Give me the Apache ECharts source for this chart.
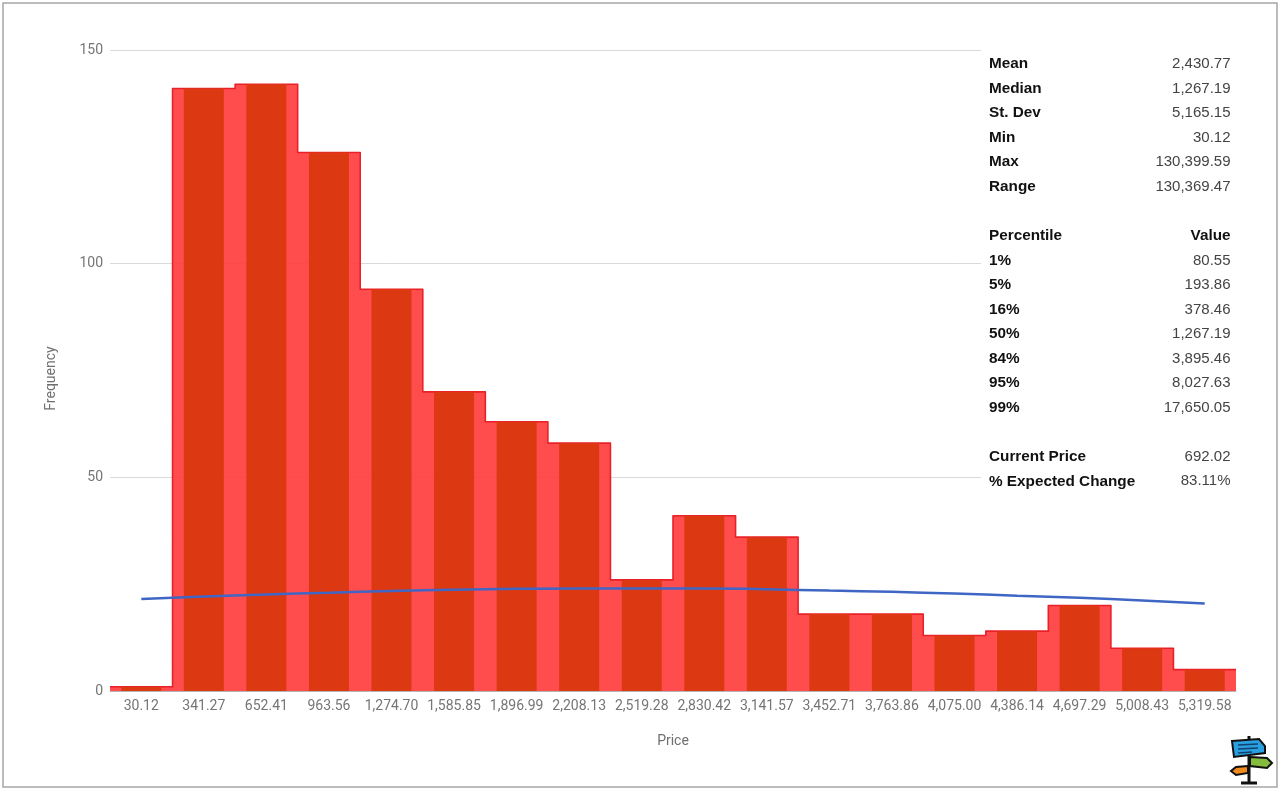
<!DOCTYPE html>
<html lang="en">
  <head>
    <meta charset="UTF-8" />
    <title>Price distribution</title>
    <style>
      html, body { margin: 0; padding: 0; background: #fff; }
      #main { width: 1280px; height: 790px; }
    </style>
    <script src="https://cdn.jsdelivr.net/npm/echarts@6/dist/echarts.min.js"></script>
  </head>
  <body>
    <div id="main"></div>
    <script>
      var priceLabels = ["30.12", "341.27", "652.41", "963.56", "1,274.70", "1,585.85", "1,896.99", "2,208.13", "2,519.28", "2,830.42", "3,141.57", "3,452.71", "3,763.86", "4,075.00", "4,386.14", "4,697.29", "5,008.43", "5,319.58"];
      var frequency = [1, 141, 142, 126, 94, 70, 63, 58, 26, 41, 36, 18, 18, 13, 14, 20, 10, 5];
      var normalCurve = [21.5, 22.1, 22.6, 23.0, 23.4, 23.7, 23.9, 24.0, 24.0, 24.0, 23.8, 23.5, 23.2, 22.8, 22.3, 21.8, 21.2, 20.5];
      var yTicks = [0, 50, 100, 150];

      // stats table, empty rows are spacers
      var statNames = ["Mean", "Median", "St. Dev", "Min", "Max", "Range", "", "Percentile", "1%", "5%", "16%", "50%", "84%", "95%", "99%", "", "Current Price", "% Expected Change"];
      var statValues = ["2,430.77", "1,267.19", "5,165.15", "30.12", "130,399.59", "130,369.47", "", "Value", "80.55", "193.86", "378.46", "1,267.19", "3,895.46", "8,027.63", "17,650.05", "", "692.02", "83.11%"];

      // step outline runs over the full width of each bin
      var stepData = [];
      frequency.forEach(function (v, i) {
        stepData.push([i, v]);
        stepData.push([i + 1, v]);
      });

      var tableFont = '"Liberation Sans", Arial, sans-serif';
      var graphics = [
        { type: "rect", z: 50, shape: { x: 981, y: 44, width: 256, height: 448 }, style: { fill: "#fff" } },
        { type: "rect", z: 60, shape: { x: 3, y: 3, width: 1274, height: 784 }, style: { fill: "none", stroke: "#a6a6a6", lineWidth: 1.5 } }
      ];
      statNames.forEach(function (name, i) {
        var y = 64 + i * 24.55;
        var isHead = i === 7;
        graphics.push({ type: "text", z: 61, style: { x: 989, y: y, text: name, fill: "#111", font: "bold 15.3px " + tableFont, textVerticalAlign: "middle" } });
        graphics.push({ type: "text", z: 61, style: { x: 1230.5, y: y, text: statValues[i], textAlign: "right", fill: isHead ? "#111" : "#444", font: isHead ? "bold 15.3px " + tableFont : "15px " + tableFont, textVerticalAlign: "middle" } });
      });

      // signpost logo, bottom right
      var logo = [
        { type: "line", shape: { x1: 1249, y1: 736, x2: 1249, y2: 782 }, style: { stroke: "#111", lineWidth: 3 } },
        { type: "line", shape: { x1: 1241, y1: 783, x2: 1257, y2: 783 }, style: { stroke: "#111", lineWidth: 3 } },
        { type: "polygon", shape: { points: [[1232, 741], [1259, 739], [1265, 746], [1265, 753], [1234, 757]] }, style: { fill: "#2a9fe0", stroke: "#111", lineWidth: 2 } },
        { type: "line", shape: { x1: 1238, y1: 745, x2: 1258, y2: 744 }, style: { stroke: "#12406e", lineWidth: 1.5 } },
        { type: "line", shape: { x1: 1238, y1: 749, x2: 1258, y2: 748 }, style: { stroke: "#12406e", lineWidth: 1.5 } },
        { type: "line", shape: { x1: 1238, y1: 753, x2: 1252, y2: 752 }, style: { stroke: "#12406e", lineWidth: 1.5 } },
        { type: "polygon", shape: { points: [[1250, 757], [1267, 758], [1272, 763], [1267, 768], [1250, 766]] }, style: { fill: "#84bd3e", stroke: "#111", lineWidth: 2 } },
        { type: "polygon", shape: { points: [[1248, 766], [1236, 767], [1231, 771], [1236, 775], [1248, 773]] }, style: { fill: "#f08a1d", stroke: "#111", lineWidth: 2 } }
      ];
      logo.forEach(function (el) {
        el.z = 62;
        graphics.push(el);
      });

      var chart = echarts.init(document.getElementById("main"));
      chart.setOption({
        animation: false,
        backgroundColor: "#fff",
        textStyle: { fontFamily: "Roboto" },
        grid: { left: 110, right: 44, top: 50, bottom: 99 },
        xAxis: [
          {
            type: "category",
            data: priceLabels,
            name: "Price",
            nameLocation: "middle",
            nameGap: 43,
            nameTextStyle: { color: "#6f6f6f", fontSize: 14 },
            axisTick: { show: false },
            axisLine: { lineStyle: { color: "#b5b5b5", width: 1 } },
            axisLabel: { color: "#757575", fontSize: 14, margin: 8, interval: 0 }
          },
          { type: "value", min: 0, max: 18, show: false }
        ],
        yAxis: {
          type: "value",
          min: 0,
          max: 150,
          interval: 50,
          name: "Frequency",
          nameLocation: "middle",
          nameGap: 52,
          nameTextStyle: { color: "#6f6f6f", fontSize: 14, padding: [0, 16, 0, 0] },
          axisLine: { show: false },
          axisTick: { show: false },
          axisLabel: { color: "#757575", fontSize: 14, margin: 7, customValues: yTicks },
          splitLine: { lineStyle: { color: "#d9d9d9", width: 1 } }
        },
        series: [
          {
            type: "line",
            xAxisIndex: 1,
            data: stepData,
            symbol: "none",
            z: 2,
            lineStyle: { color: "#ea2028", width: 1.6, join: "round" },
            areaStyle: { color: "rgba(255,57,57,0.9)", opacity: 1 }
          },
          {
            type: "bar",
            data: frequency,
            barWidth: 40,
            z: 3,
            itemStyle: { color: "#dc3912" }
          },
          {
            type: "line",
            data: normalCurve,
            symbol: "none",
            smooth: true,
            z: 4,
            lineStyle: { color: "#3f66c4", width: 2.5 }
          }
        ],
        graphic: { elements: graphics }
      });
    </script>
  </body>
</html>
